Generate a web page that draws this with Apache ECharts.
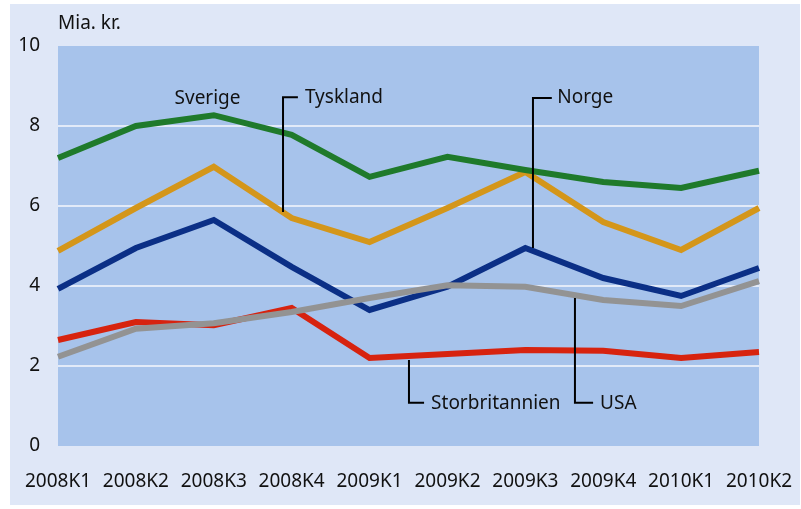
<!DOCTYPE html>
<html>
<head>
<meta charset="utf-8">
<script src="https://cdn.jsdelivr.net/npm/echarts@6/dist/echarts.min.js"></script>
<style>
  html, body { margin: 0; padding: 0; background: #ffffff; }
  #main { width: 801px; height: 509px; }
</style>
</head>
<body>
<div id="main"></div>
<script>
var FONT = "'Noto Sans', 'Open Sans', sans-serif";

// kvartaler
var categories = ['2008K1', '2008K2', '2008K3', '2008K4', '2009K1', '2009K2', '2009K3', '2009K4', '2010K1', '2010K2'];

// Mia. kr.
var sverige        = [7.2, 8.0, 8.27, 7.78, 6.73, 7.23, 6.9, 6.6, 6.45, 6.88];
var tyskland       = [4.88, 5.95, 6.98, 5.7, 5.1, 5.95, 6.85, 5.6, 4.9, 5.95];
var norge          = [3.93, 4.95, 5.65, 4.48, 3.4, 3.98, 4.95, 4.2, 3.75, 4.45];
var storbritannien = [2.65, 3.1, 3.02, 3.45, 2.2, 2.3, 2.4, 2.38, 2.2, 2.35];
var usa            = [2.23, 2.93, 3.07, 3.35, 3.7, 4.02, 3.98, 3.65, 3.5, 4.12];

var yTicks = [0, 2, 4, 6, 8, 10];

// etiketter med henvisningslinjer (x = kategori-indeks, y = verdi)
var labels = [
  { text: 'Sverige', at: [1.92, 8.68], align: 'center', path: [] },
  { text: 'Tyskland', at: [3.17, 8.72], align: 'left', path: [[2.889, 5.85], [2.889, 8.72], [3.08, 8.72]] },
  { text: 'Norge', at: [6.41, 8.7], align: 'left', path: [[6.098, 4.95], [6.098, 8.7], [6.34, 8.7]] },
  { text: 'Storbritannien', at: [4.79, 1.07], align: 'left', path: [[4.506, 2.15], [4.506, 1.08], [4.7, 1.08]] },
  { text: 'USA', at: [6.96, 1.07], align: 'left', path: [[6.637, 3.7], [6.637, 1.08], [6.87, 1.08]] }
];

var chart = echarts.init(document.getElementById('main'));

function line(name, data, color, z) {
  return {
    name: name,
    type: 'line',
    data: data,
    symbol: 'none',
    z: z,
    lineStyle: { color: color, width: 6, join: 'miter' }
  };
}

var option = {
  animation: false,
  backgroundColor: '#ffffff',
  textStyle: { fontFamily: FONT },
  grid: {
    left: 58, top: 46, right: 42, bottom: 63,
    show: true, backgroundColor: '#a7c3eb', borderWidth: 0
  },
  xAxis: {
    type: 'category',
    data: categories,
    boundaryGap: false,
    axisLine: { show: false },
    axisTick: { show: false },
    axisLabel: { color: '#111', fontSize: 19, fontFamily: FONT, margin: 26, interval: 0 },
    splitLine: { show: false }
  },
  yAxis: {
    type: 'value',
    min: yTicks[0],
    max: yTicks[yTicks.length - 1],
    interval: 2,
    name: 'Mia. kr.',
    nameLocation: 'end',
    nameGap: 22,
    nameTextStyle: { color: '#111', fontSize: 19, fontFamily: FONT, align: 'left', verticalAlign: 'middle' },
    axisLine: { show: false },
    axisTick: { show: false },
    axisLabel: { color: '#111', fontSize: 19, fontFamily: FONT, margin: 18 },
    splitLine: { show: true, showMinLine: false, showMaxLine: false, lineStyle: { color: '#e2eaf8', width: 2 } }
  },
  graphic: [{
    type: 'rect', z: -10, silent: true,
    shape: { x: 10, y: 4, width: 790, height: 501 },
    style: { fill: '#dfe7f7' }
  }],
  series: [
    line('Storbritannien', storbritannien, '#d7230f', 2),
    line('Norge', norge, '#0b2f86', 3),
    line('USA', usa, '#939393', 4),
    line('Tyskland', tyskland, '#d4961a', 5),
    line('Sverige', sverige, '#1f7a2b', 6)
  ]
};

chart.setOption(option);

// kategoriaksen runder av, så x interpoleres mellom to kategorier
var p0 = chart.convertToPixel({ gridIndex: 0 }, [0, 0]);
var p1 = chart.convertToPixel({ gridIndex: 0 }, [1, 0]);
function toPx(d) {
  var py = chart.convertToPixel({ yAxisIndex: 0 }, d[1]);
  return [p0[0] + d[0] * (p1[0] - p0[0]), py];
}

var extra = [];
labels.forEach(function (l) {
  var p = toPx(l.at);
  extra.push({
    type: 'text', z: 20, silent: true,
    x: p[0], y: p[1],
    style: { text: l.text, fill: '#111', font: '19px ' + FONT, align: l.align, verticalAlign: 'middle' }
  });
  if (l.path.length) {
    extra.push({
      type: 'polyline', z: 20, silent: true,
      shape: { points: l.path.map(toPx) },
      style: { stroke: '#000', lineWidth: 2, fill: null }
    });
  }
});
option.graphic = option.graphic.concat(extra);
chart.setOption({ graphic: option.graphic });
</script>
</body>
</html>
